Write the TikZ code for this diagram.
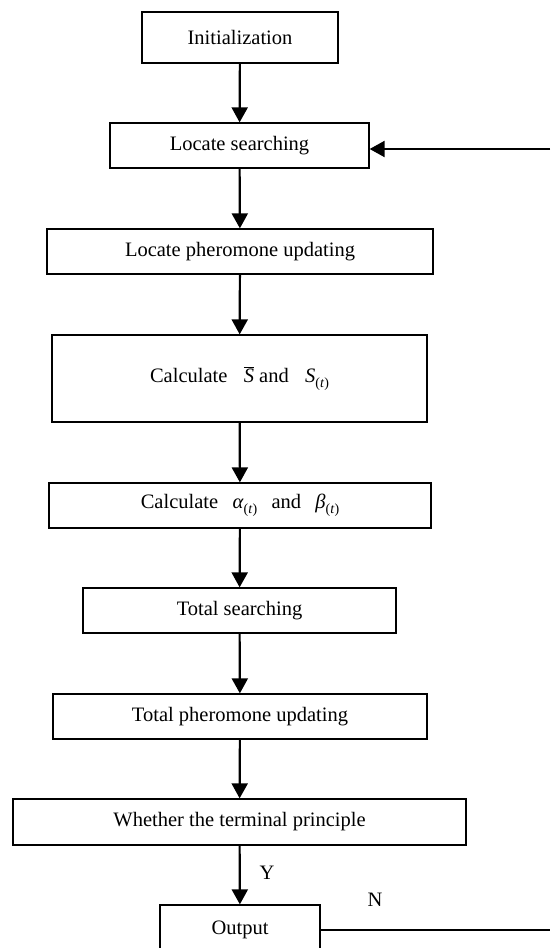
\documentclass[tikz,border=0pt]{standalone}
\usepackage{fontspec}
\setmainfont{Liberation Serif}
\usetikzlibrary{arrows.meta}
\newcommand{\subt}{\raisebox{-0.5ex}{\fontsize{14}{14}\selectfont(\textit{t})}}
\begin{document}
\begin{tikzpicture}[x=1pt,y=1pt,
  box/.style={draw=black,line width=1.3pt,rectangle,inner sep=0pt,
    font=\fontsize{20.5}{24}\selectfont},
  flow/.style={line width=2.2pt,-{Triangle[length=15pt,width=16pt]}},
  lbl/.style={font=\fontsize{20.5}{24}\selectfont,inner sep=0pt}]
\useasboundingbox (0,0) rectangle (550,-948);
\node[box,minimum width=196pt,minimum height=51pt] (init) at (240,-37.5) {Initialization};
\node[box,minimum width=259pt,minimum height=45pt] (ls) at (239.5,-145.5) {Locate searching};
\node[box,minimum width=386pt,minimum height=45pt] (lp) at (240,-251.5) {Locate pheromone updating};
\node[box,minimum width=375pt,minimum height=87pt] (cs) at (239.5,-378.5)
  {Calculate\hspace{0.8em}$\overline{\hbox{\textit{S}}}$ and\hspace{0.8em}\textit{S}\subt};
\node[box,minimum width=382pt,minimum height=45pt] (ca) at (240,-505.5)
  {Calculate\hspace{0.7em}\textit{α}\subt\hspace{0.7em}and\hspace{0.7em}\textit{β}\subt};
\node[box,minimum width=313pt,minimum height=45pt] (ts) at (239.5,-610.5) {Total searching};
\node[box,minimum width=374pt,minimum height=45pt] (tp) at (240,-716.5) {Total pheromone updating};
\node[box,minimum width=453pt,minimum height=46pt] (wh) at (239.5,-822) {Whether the terminal principle};
\node[box,minimum width=160pt,minimum height=50pt] (out) at (240,-930) {Output};
\coordinate (rb) at (550,-930);
\coordinate (rt) at (550,-149);
\draw[flow] (init) -- (ls);
\draw[flow] (ls) -- (lp);
\draw[flow] (lp) -- (cs);
\draw[flow] (cs) -- (ca);
\draw[flow] (ca) -- (ts);
\draw[flow] (ts) -- (tp);
\draw[flow] (tp) -- (wh);
\draw[flow] (wh) -- (out);
\draw[line width=1.3pt] (out.east) -- (rb);
\draw[flow] (rt) -- (rt -| ls.east);
\node[lbl] (y) at (267,-873) {Y};
\node[lbl] (n) at (375,-900) {N};
\end{tikzpicture}
\end{document}
